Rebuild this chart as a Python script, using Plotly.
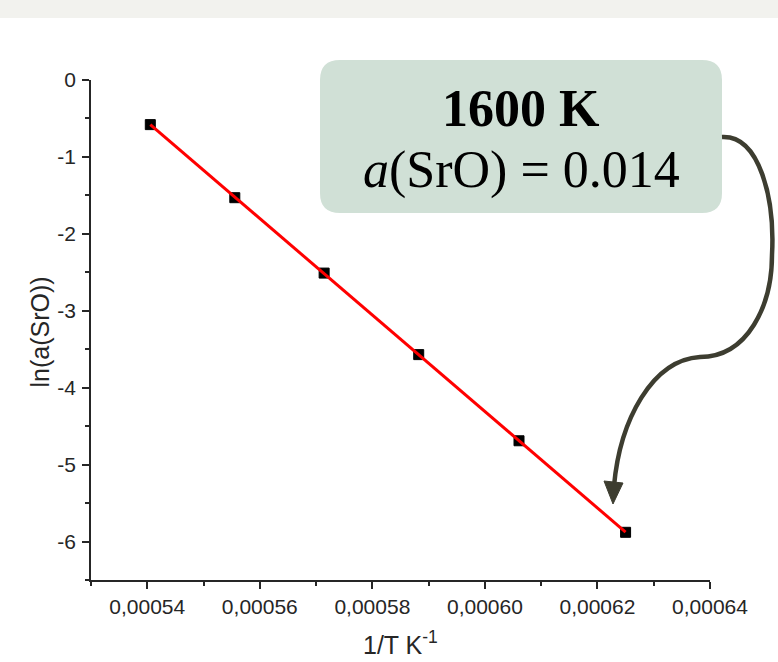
import numpy as np
import plotly.graph_objects as go

# Data
temps_K = [1850, 1800, 1750, 1700, 1650, 1600]
inv_T = [1.0 / t for t in temps_K]
ln_a_SrO = [-0.58, -1.53, -2.51, -3.57, -4.69, -5.88]

x_tickvals = [0.00054, 0.00056, 0.00058, 0.00060, 0.00062, 0.00064]
x_ticktext = ["0,00054", "0,00056", "0,00058", "0,00060", "0,00062", "0,00064"]
y_tickvals = [0, -1, -2, -3, -4, -5, -6]
y_ticktext = ["0", "-1", "-2", "-3", "-4", "-5", "-6"]

x_title = "1/T K<sup>-1</sup>"
y_title = "ln(a(SrO))"
box_line1 = "<b>1600 K</b>"
box_line2 = "<i>a</i>(SrO) = 0.014"

# Figure geometry (pixels)
W, H = 778, 662
L, R, T, B = 91, 68, 80, 82
PW, PH = W - L - R, H - T - B


def px(x):
    return (x - L) / PW


def py(y):
    return (H - B - y) / PH


def pt(x, y):
    return f"{px(x):.5f},{py(y):.5f}"


# linear fit through the points
coef = np.polyfit(inv_T, ln_a_SrO, 1)
fit_x = np.array([min(inv_T), max(inv_T)])
fit_y = np.polyval(coef, fit_x)

fig = go.Figure()
fig.add_trace(go.Scatter(x=inv_T, y=ln_a_SrO, mode="markers",
                         marker=dict(symbol="square", size=10, color="#000000",
                                     line=dict(color="#000000", width=1)),
                         showlegend=False))
fig.add_trace(go.Scatter(x=fit_x, y=fit_y, mode="lines",
                         line=dict(color="#ff0000", width=3),
                         showlegend=False, hoverinfo="skip"))

shapes = []
# top light band
shapes.append(dict(type="rect", xref="paper", yref="paper",
                   x0=px(0), x1=px(W), y0=py(0), y1=py(18),
                   fillcolor="#f2f2ee", line=dict(width=0), layer="below"))

# rounded box
x0, x1, y0, y1, r = 320, 722, 60, 213, 20
box_path = (f"M {pt(x0 + r, y0)} L {pt(x1 - r, y0)} Q {pt(x1, y0)} {pt(x1, y0 + r)} "
            f"L {pt(x1, y1 - r)} Q {pt(x1, y1)} {pt(x1 - r, y1)} "
            f"L {pt(x0 + r, y1)} Q {pt(x0, y1)} {pt(x0, y1 - r)} "
            f"L {pt(x0, y0 + r)} Q {pt(x0, y0)} {pt(x0 + r, y0)} Z")
shapes.append(dict(type="path", xref="paper", yref="paper", path=box_path,
                   fillcolor="#d0e0d6", line=dict(width=0), layer="above"))

# curved arrow
arrow_path = (f"M {pt(722, 137)} C {pt(760, 135)} {pt(775, 200)} {pt(772, 255)} "
              f"C {pt(772, 305)} {pt(748, 357)} {pt(700, 357)} "
              f"C {pt(652, 360)} {pt(620, 420)} {pt(614, 486)}")
shapes.append(dict(type="path", xref="paper", yref="paper", path=arrow_path,
                   line=dict(color="#3d3d30", width=4.5)))
head_path = f"M {pt(613, 504)} L {pt(604, 481)} L {pt(623, 483)} Z"
shapes.append(dict(type="path", xref="paper", yref="paper", path=head_path,
                   fillcolor="#3d3d30", line=dict(color="#3d3d30", width=1)))

title_font = dict(family="Liberation Sans", size=25, color="#262626")
annotations = [
    dict(xref="paper", yref="paper", x=px(521), y=py(108), text=box_line1,
         showarrow=False, xanchor="center", yanchor="middle",
         font=dict(family="Liberation Serif", size=52, color="#000000")),
    dict(xref="paper", yref="paper", x=px(521), y=py(170), text=box_line2,
         showarrow=False, xanchor="center", yanchor="middle",
         font=dict(family="Liberation Serif", size=52, color="#000000")),
    dict(xref="paper", yref="paper", x=px(39.5), y=py(332), text=y_title,
         showarrow=False, xanchor="center", yanchor="middle", textangle=-90,
         font=title_font),
    dict(xref="paper", yref="paper", x=px(400), y=py(643), text=x_title,
         showarrow=False, xanchor="center", yanchor="middle",
         font=title_font),
]

axis_font = dict(family="Liberation Sans", size=21, color="#262626")
fig.update_layout(
    width=W, height=H,
    margin=dict(l=L, r=R, t=T, b=B, pad=0, autoexpand=False),
    paper_bgcolor="white", plot_bgcolor="white",
    shapes=shapes, annotations=annotations,
    xaxis=dict(range=[0.00053, 0.00064], tickmode="array", tickvals=x_tickvals,
               ticktext=x_ticktext, showgrid=False, zeroline=False, automargin=False,
               showline=True, linecolor="#262626", linewidth=1.6,
               ticks="outside", ticklen=7, tickwidth=1.6, tickcolor="#262626",
               minor=dict(ticks="outside", ticklen=4, tickwidth=1.6, tickcolor="#262626",
                          tick0=0.00053, dtick=0.00001, showgrid=False),
               tickfont=axis_font),
    yaxis=dict(range=[-6.5, 0], tickmode="array", tickvals=y_tickvals, ticktext=y_ticktext,
               showgrid=False, zeroline=False, automargin=False,
               showline=True, linecolor="#262626", linewidth=1.6,
               ticks="outside", ticklen=7, tickwidth=1.6, tickcolor="#262626",
               minor=dict(ticks="outside", ticklen=4, tickwidth=1.6, tickcolor="#262626",
                          tick0=0, dtick=0.5, showgrid=False),
               tickfont=axis_font, ticklabelstandoff=2),
)

fig.write_html("out.html", config={"displayModeBar": False},
               post_script="document.body.style.margin='0';")
